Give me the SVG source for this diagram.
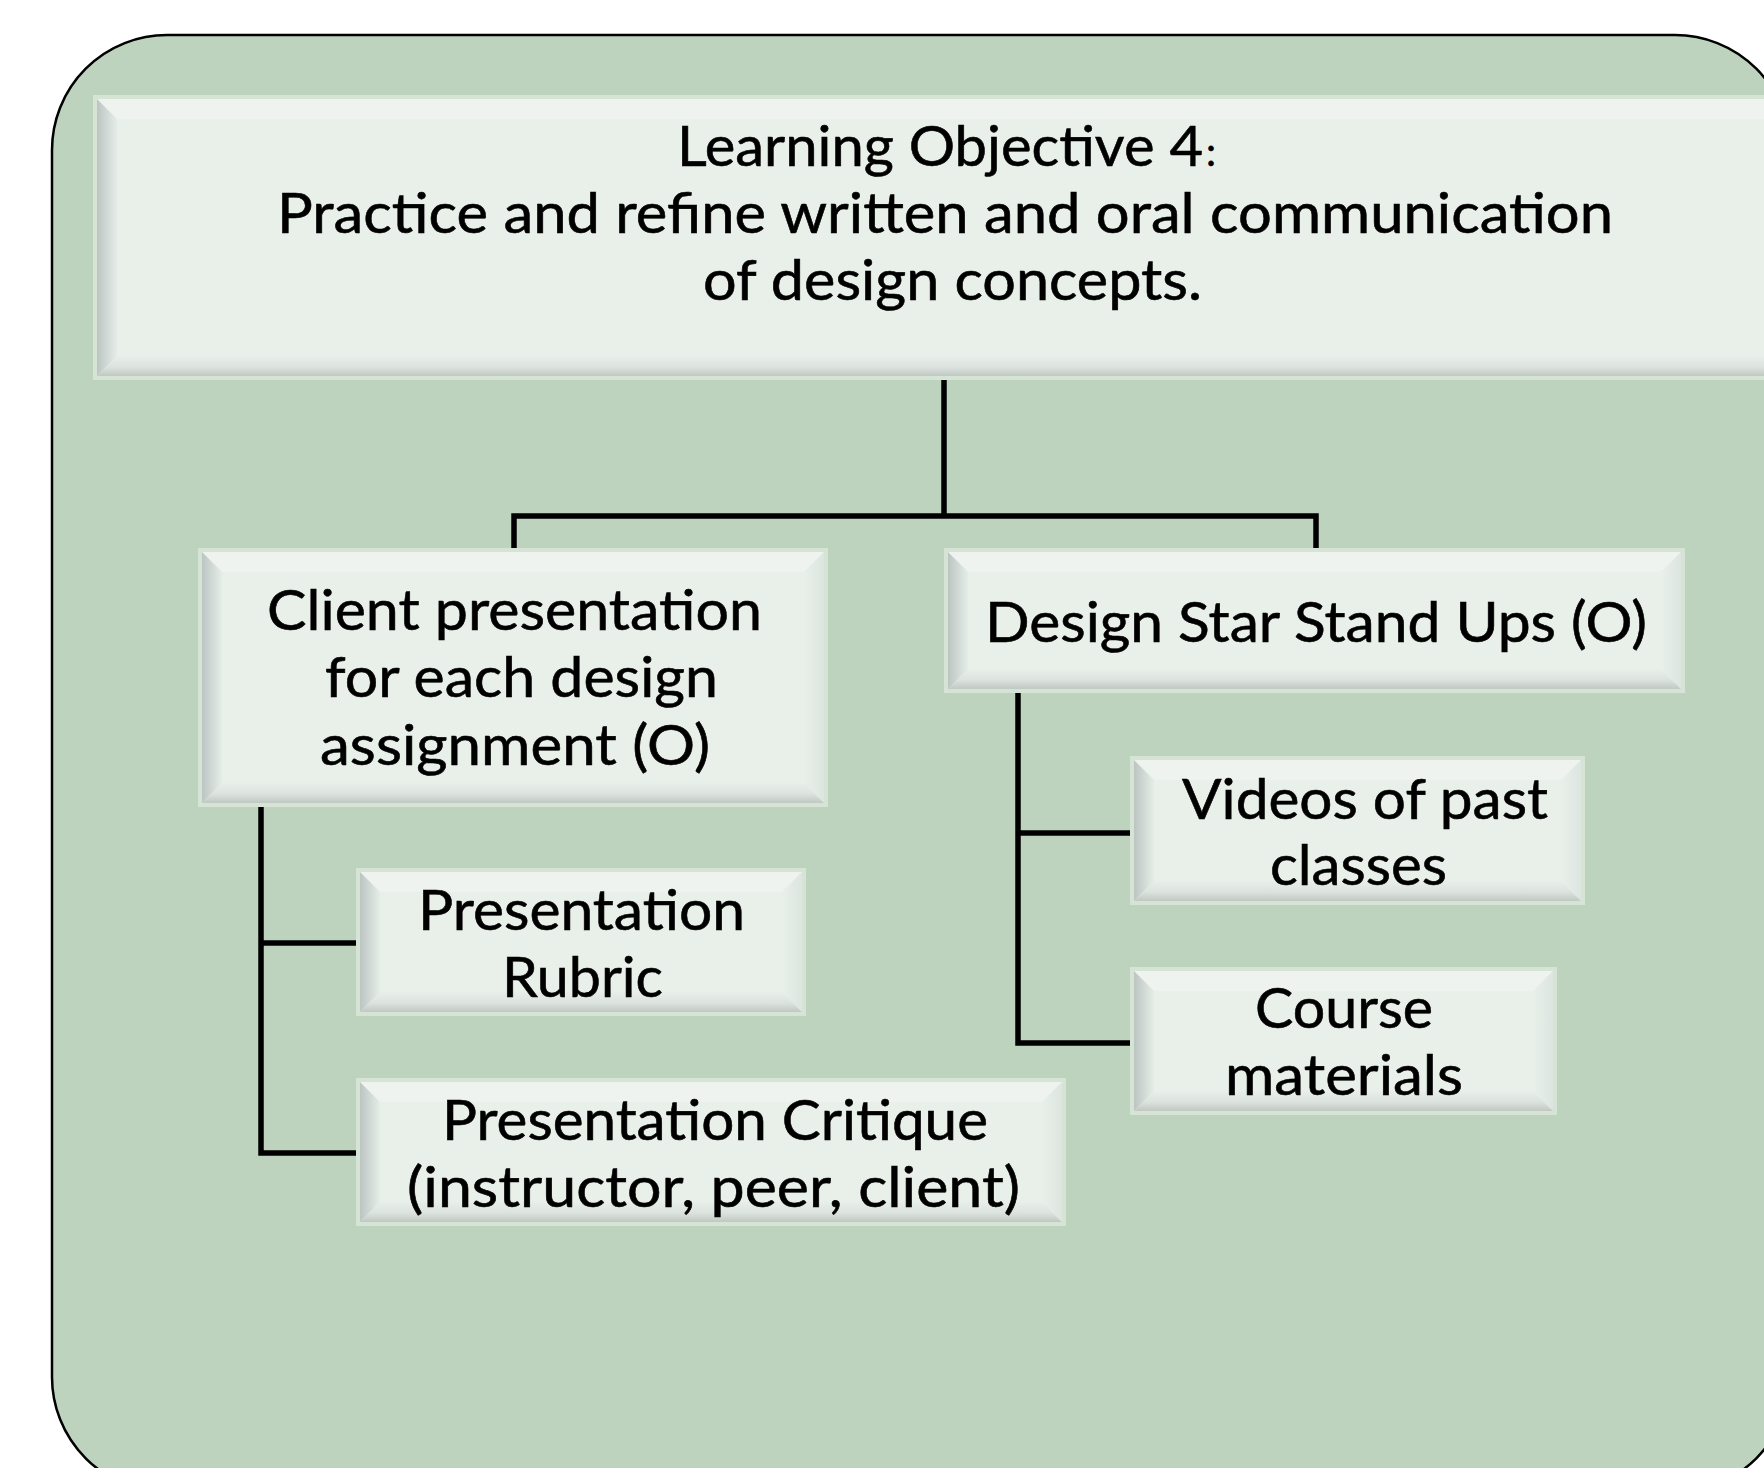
<svg xmlns="http://www.w3.org/2000/svg" width="1764" height="1468" viewBox="0 0 1764 1468">
  <defs>
    <linearGradient id="bevelLeft" x1="0" y1="0" x2="1" y2="0">
      <stop offset="0" stop-color="#bcc5c2"/>
      <stop offset="1" stop-color="#e6ede9"/>
    </linearGradient>
    <linearGradient id="bevelBottom" x1="0" y1="0" x2="0" y2="1">
      <stop offset="0" stop-color="#e8efea"/>
      <stop offset="0.55" stop-color="#dce3df"/>
      <stop offset="1" stop-color="#c0c8c4"/>
    </linearGradient>
    <linearGradient id="bevelRight" x1="0" y1="0" x2="1" y2="0">
      <stop offset="0" stop-color="#e9f0ea"/>
      <stop offset="1" stop-color="#dde5e0"/>
    </linearGradient>
  </defs>
  <style>
    .panel { fill: #bdd3be; stroke: #000; stroke-width: 2.5; }
    .rim { fill: #d6e4d6; }
    .face { fill: #e9f0e9; }
    .bt { fill: #eef3ef; }
    .bl { fill: url(#bevelLeft); }
    .bb { fill: url(#bevelBottom); }
    .br { fill: url(#bevelRight); }
    .label { font-family: Lato, "Open Sans", "Liberation Sans", sans-serif; font-size: 57px; fill: #000; stroke: #000; stroke-width: 0.6; }
    .small { font-size: 40px; }
    .wire { fill: none; stroke: #000; stroke-width: 5.5; stroke-linejoin: miter; stroke-linecap: butt; }
  </style>

  <rect width="1764" height="1468" fill="#ffffff"/>
  <!-- background panel -->
  <rect class="panel" x="52" y="35" width="1738" height="1457" rx="115" ry="115"/>

  <!-- connectors -->
  <g id="connectors">
    <path class="wire" d="M944 380 V516"/>
    <path class="wire" d="M514 548 V516 H1316 V548"/>
    <path class="wire" d="M261 807 V1153 H357"/>
    <path class="wire" d="M261 943 H357"/>
    <path class="wire" d="M1018 693 V1043 H1131"/>
    <path class="wire" d="M1018 833 H1131"/>
  </g>

  <!-- objective box: x 93..1797, y 95..380 -->
  <g id="objective">
    <rect class="rim" x="93" y="95" width="1704" height="285"/>
    <rect class="face" x="97" y="99" width="1696" height="277"/>
    <polygon class="bt" points="97,99 1793,99 1773,119 117,119"/>
    <polygon class="br" points="1793,99 1793,376 1773,356 1773,119"/>
    <polygon class="bb" points="97,376 117,356 1773,356 1793,376"/>
    <polygon class="bl" points="97,99 117,119 117,356 97,376"/>
    <text class="label" x="677" y="166" textLength="526" lengthAdjust="spacingAndGlyphs">Learning Objective 4</text>
    <text class="label small" x="1206" y="166">:</text>
    <text class="label" x="277" y="233" textLength="1336" lengthAdjust="spacingAndGlyphs">Practice and refine written and oral communication</text>
    <text class="label" x="703" y="300" textLength="499" lengthAdjust="spacingAndGlyphs">of design concepts.</text>
  </g>

  <!-- client presentation: x 198..828, y 548..807 -->
  <g id="client-presentation">
    <rect class="rim" x="198" y="548" width="630" height="259"/>
    <rect class="face" x="202" y="552" width="622" height="251"/>
    <polygon class="bt" points="202,552 824,552 804,572 222,572"/>
    <polygon class="br" points="824,552 824,803 804,783 804,572"/>
    <polygon class="bb" points="202,803 222,783 804,783 824,803"/>
    <polygon class="bl" points="202,552 222,572 222,783 202,803"/>
    <text class="label" x="267" y="630" textLength="495" lengthAdjust="spacingAndGlyphs">Client presentation</text>
    <text class="label" x="325" y="697" textLength="393" lengthAdjust="spacingAndGlyphs">for each design</text>
    <text class="label" x="320" y="765" textLength="390" lengthAdjust="spacingAndGlyphs">assignment (O)</text>
  </g>

  <!-- design star: x 944..1685, y 548..693 -->
  <g id="design-star">
    <rect class="rim" x="944" y="548" width="741" height="145"/>
    <rect class="face" x="948" y="552" width="733" height="137"/>
    <polygon class="bt" points="948,552 1681,552 1661,572 968,572"/>
    <polygon class="br" points="1681,552 1681,689 1661,669 1661,572"/>
    <polygon class="bb" points="948,689 968,669 1661,669 1681,689"/>
    <polygon class="bl" points="948,552 968,572 968,669 948,689"/>
    <text class="label" x="985" y="642" textLength="662" lengthAdjust="spacingAndGlyphs">Design Star Stand Ups (O)</text>
  </g>

  <!-- rubric: x 356..806, y 868..1016 -->
  <g id="rubric">
    <rect class="rim" x="356" y="868" width="450" height="148"/>
    <rect class="face" x="360" y="872" width="442" height="140"/>
    <polygon class="bt" points="360,872 802,872 782,892 380,892"/>
    <polygon class="br" points="802,872 802,1012 782,992 782,892"/>
    <polygon class="bb" points="360,1012 380,992 782,992 802,1012"/>
    <polygon class="bl" points="360,872 380,892 380,992 360,1012"/>
    <text class="label" x="418" y="930" textLength="327" lengthAdjust="spacingAndGlyphs">Presentation</text>
    <text class="label" x="502" y="997" textLength="161" lengthAdjust="spacingAndGlyphs">Rubric</text>
  </g>

  <!-- critique: x 356..1066, y 1078..1226 -->
  <g id="critique">
    <rect class="rim" x="356" y="1078" width="710" height="148"/>
    <rect class="face" x="360" y="1082" width="702" height="140"/>
    <polygon class="bt" points="360,1082 1062,1082 1042,1102 380,1102"/>
    <polygon class="br" points="1062,1082 1062,1222 1042,1202 1042,1102"/>
    <polygon class="bb" points="360,1222 380,1202 1042,1202 1062,1222"/>
    <polygon class="bl" points="360,1082 380,1102 380,1202 360,1222"/>
    <text class="label" x="442" y="1140" textLength="546" lengthAdjust="spacingAndGlyphs">Presentation Critique</text>
    <text class="label" x="407" y="1207" textLength="613" lengthAdjust="spacingAndGlyphs">(instructor, peer, client)</text>
  </g>

  <!-- videos: x 1130..1585, y 756..905 -->
  <g id="videos">
    <rect class="rim" x="1130" y="756" width="455" height="149"/>
    <rect class="face" x="1134" y="760" width="447" height="141"/>
    <polygon class="bt" points="1134,760 1581,760 1561,780 1154,780"/>
    <polygon class="br" points="1581,760 1581,901 1561,881 1561,780"/>
    <polygon class="bb" points="1134,901 1154,881 1561,881 1581,901"/>
    <polygon class="bl" points="1134,760 1154,780 1154,881 1134,901"/>
    <text class="label" x="1182" y="819" textLength="366" lengthAdjust="spacingAndGlyphs">Videos of past</text>
    <text class="label" x="1270" y="885" textLength="177" lengthAdjust="spacingAndGlyphs">classes</text>
  </g>

  <!-- course materials: x 1130..1557, y 967..1115 -->
  <g id="course-materials">
    <rect class="rim" x="1130" y="967" width="427" height="148"/>
    <rect class="face" x="1134" y="971" width="419" height="140"/>
    <polygon class="bt" points="1134,971 1553,971 1533,991 1154,991"/>
    <polygon class="br" points="1553,971 1553,1111 1533,1091 1533,991"/>
    <polygon class="bb" points="1134,1111 1154,1091 1533,1091 1553,1111"/>
    <polygon class="bl" points="1134,971 1154,991 1154,1091 1134,1111"/>
    <text class="label" x="1255" y="1028" textLength="178" lengthAdjust="spacingAndGlyphs">Course</text>
    <text class="label" x="1225" y="1095" textLength="238" lengthAdjust="spacingAndGlyphs">materials</text>
  </g>
</svg>
